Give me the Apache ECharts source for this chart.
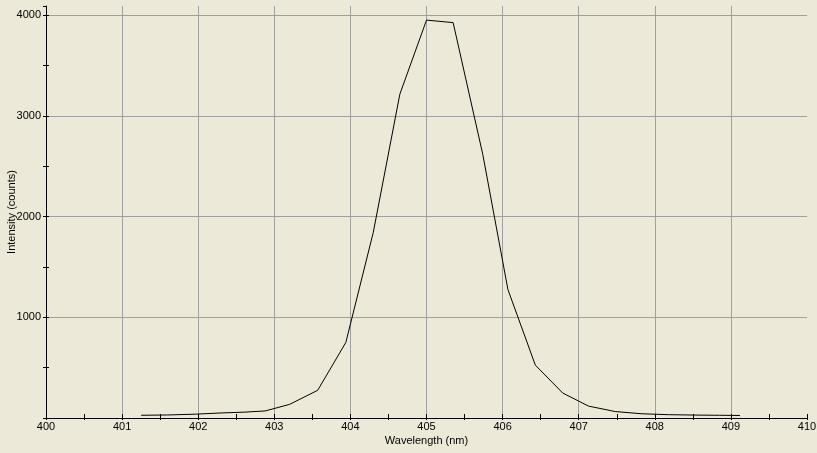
<!DOCTYPE html>
<html>
<head>
<meta charset="utf-8">
<title>Intensity vs Wavelength</title>
<script src="https://cdn.jsdelivr.net/npm/echarts@6.0.0/dist/echarts.min.js"></script>
<style>
  html, body { margin: 0; padding: 0; background: #ece9d8; }
  #main { width: 817px; height: 453px; }
</style>
</head>
<body>
<div id="main"></div>
<script>
// wavelength (nm) of each sample and the counts
var wavelengths = [401.25, 401.6, 401.96, 402.3, 402.6, 402.88, 403.2, 403.57, 403.94, 404.3,
  404.65, 405.0, 405.35, 405.74, 406.07, 406.43, 406.79, 407.13, 407.48, 407.83,
  408.18, 408.53, 408.85, 409.12];
var counts = [27, 30, 38, 50, 58, 70, 135, 275, 750, 1840,
  3215, 3950, 3925, 2615, 1275, 525, 248, 118, 64, 42,
  33, 29, 27, 25];

var xMin = 400, xMax = 410;
var yMin = 0, yMax = 4090;

var gridColor = '#a0a0a0';
var labelFont = 'Liberation Sans';

var points = wavelengths.map(function (w, i) { return [w, counts[i]]; });

var myChart = echarts.init(document.getElementById('main'));

var option = {
  backgroundColor: '#ece9d8',
  animation: false,
  grid: { left: 46, right: 10, top: 6, bottom: 35, containLabel: false, outerBoundsMode: 'none' },
  xAxis: [
    {
      type: 'value',
      position: 'bottom',
      min: xMin,
      max: xMax,
      interval: 0.5,
      name: 'Wavelength (nm)',
      nameLocation: 'middle',
      nameGap: 17,
      nameMoveOverlap: false,
      nameTextStyle: { color: '#000', fontFamily: labelFont, fontSize: 11 },
      axisLine: { onZero: false, lineStyle: { color: '#000', width: 1 } },
      axisTick: { inside: true, length: 4, lineStyle: { color: '#000' } },
      axisLabel: {
        color: '#000', fontFamily: labelFont, fontSize: 11, margin: 3,
        showMaxLabel: true, showMinLabel: true,
        formatter: function (v) { return Math.abs(v - Math.round(v)) < 1e-6 ? String(Math.round(v)) : ''; }
      },
      splitLine: {
        show: true, showMaxLine: false,
        lineStyle: { color: [gridColor, 'transparent'], width: 1 }
      }
    },
    {
      // only the short tick stubs under the axis line
      type: 'value',
      position: 'bottom',
      min: xMin,
      max: xMax,
      interval: 0.5,
      axisLine: { show: false },
      axisTick: { inside: false, length: 2, lineStyle: { color: '#000' } },
      axisLabel: { show: false },
      splitLine: { show: false }
    }
  ],
  yAxis: [
    {
      type: 'value',
      position: 'left',
      min: yMin,
      max: yMax,
      interval: 500,
      name: 'Intensity (counts)',
      nameLocation: 'middle',
      nameGap: 29,
      nameMoveOverlap: false,
      nameTextStyle: { color: '#000', fontFamily: labelFont, fontSize: 11 },
      axisLine: { show: true, onZero: false, lineStyle: { color: '#000', width: 1 } },
      axisTick: { inside: true, length: 3, lineStyle: { color: '#000' } },
      axisLabel: {
        color: '#000', fontFamily: labelFont, fontSize: 11, margin: 5,
        showMaxLabel: false,
        formatter: function (v) { return (v > 0 && v % 1000 === 0) ? String(v) : ''; }
      },
      splitLine: {
        show: true, showMaxLine: false,
        lineStyle: { color: [gridColor, 'transparent'], width: 1 }
      }
    },
    {
      type: 'value',
      position: 'left',
      min: yMin,
      max: yMax,
      interval: 500,
      axisLine: { show: false },
      axisTick: { show: true, inside: false, length: 3, lineStyle: { color: '#000' } },
      axisLabel: { show: false },
      splitLine: { show: false }
    }
  ],
  series: [
    {
      name: 'Intensity',
      type: 'line',
      data: points,
      showSymbol: false,
      symbol: 'none',
      lineStyle: { color: '#000', width: 1 },
      z: 5
    }
  ]
};

myChart.setOption(option);
</script>
</body>
</html>
